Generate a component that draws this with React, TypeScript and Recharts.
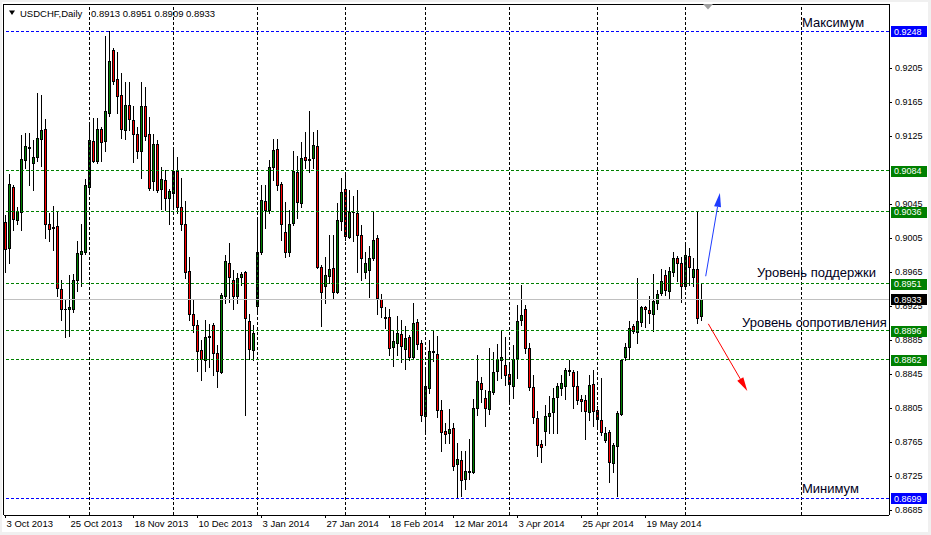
import React from "react";
import { ComposedChart, Bar, XAxis, YAxis, ReferenceLine } from "recharts";

// USDCHF daily candles, 3 Oct 2013 .. early Jun 2014
const opens = [
  0.9024, 0.8993, 0.9065, 0.9026, 0.9035, 0.9097, 0.9112, 0.9093, 0.9100, 0.9122,
  0.9133, 0.9021, 0.9017, 0.9019, 0.8945, 0.8922, 0.8922, 0.8922, 0.8956, 0.8986,
  0.8988, 0.9065, 0.9119, 0.9095, 0.9133, 0.9119, 0.9152, 0.9226, 0.9192, 0.9173,
  0.9132, 0.9162, 0.9144, 0.9127, 0.9107, 0.9160, 0.9127, 0.9072, 0.9116, 0.9063,
  0.9073, 0.9052, 0.9058, 0.9084, 0.9041, 0.9021, 0.8966, 0.8916, 0.8903, 0.8873,
  0.8862, 0.8889, 0.8903, 0.8870, 0.8847, 0.8937, 0.8976, 0.8956, 0.8937, 0.8959,
  0.8965, 0.8907, 0.8873, 0.8925, 0.8988, 0.9049, 0.9038, 0.9089, 0.9110, 0.9068,
  0.9012, 0.8988, 0.9023, 0.9083, 0.9046, 0.9100, 0.9097, 0.9099, 0.9113, 0.8971,
  0.8949, 0.8960, 0.8970, 0.8942, 0.9025, 0.9063, 0.9006, 0.9035, 0.9034, 0.9008,
  0.8965, 0.8967, 0.8982, 0.9005, 0.8933, 0.8912, 0.8912, 0.8877, 0.8882, 0.8892,
  0.8875, 0.8889, 0.8865, 0.8906, 0.8881, 0.8796, 0.8829, 0.8872, 0.8869, 0.8803,
  0.8778, 0.8776, 0.8781, 0.8739, 0.8744, 0.8722, 0.8730, 0.8730, 0.8805, 0.8835,
  0.8817, 0.8804, 0.8824, 0.8848, 0.8862, 0.8856, 0.8845, 0.8831, 0.8864, 0.8909,
  0.8922, 0.8876, 0.8830, 0.8793, 0.8763, 0.8778, 0.8796, 0.8800, 0.8818, 0.8829,
  0.8831, 0.8850, 0.8847, 0.8831, 0.8816, 0.8814, 0.8800, 0.8833, 0.8803, 0.8791,
  0.8767, 0.8777, 0.8740, 0.8760, 0.8798, 0.8865, 0.8877, 0.8901, 0.8895, 0.8906,
  0.8924, 0.8920, 0.8916, 0.8929, 0.8940, 0.8961, 0.8943, 0.8965, 0.8982, 0.8976,
  0.8949, 0.8984, 0.8959, 0.8969, 0.8913,
];
const highs = [
  0.9032, 0.9080, 0.9067, 0.9042, 0.9126, 0.9129, 0.9129, 0.9120, 0.9176, 0.9173,
  0.9145, 0.9034, 0.9043, 0.9037, 0.8956, 0.8933, 0.8961, 0.8963, 0.9001, 0.9021,
  0.9074, 0.9139, 0.9146, 0.9146, 0.9136, 0.9243, 0.9248, 0.9229, 0.9224, 0.9199,
  0.9189, 0.9189, 0.9160, 0.9136, 0.9189, 0.9183, 0.9147, 0.9127, 0.9120, 0.9089,
  0.9085, 0.9063, 0.9111, 0.9100, 0.9075, 0.9048, 0.8983, 0.8932, 0.8909, 0.8885,
  0.8909, 0.8904, 0.8905, 0.8879, 0.8940, 0.8985, 0.8999, 0.8967, 0.8964, 0.8965,
  0.8966, 0.8916, 0.8903, 0.9026, 0.9067, 0.9067, 0.9097, 0.9122, 0.9121, 0.9071,
  0.9047, 0.9038, 0.9107, 0.9101, 0.9118, 0.9130, 0.9154, 0.9130, 0.9132, 0.8973,
  0.8983, 0.9009, 0.9009, 0.9046, 0.9076, 0.9081, 0.9061, 0.9054, 0.9061, 0.9020,
  0.8989, 0.8995, 0.9035, 0.9009, 0.8939, 0.8924, 0.8921, 0.8897, 0.8913, 0.8909,
  0.8901, 0.8891, 0.8928, 0.8910, 0.8885, 0.8850, 0.8885, 0.8896, 0.8890, 0.8814,
  0.8787, 0.8804, 0.8787, 0.8764, 0.8755, 0.8754, 0.8769, 0.8816, 0.8867, 0.8842,
  0.8826, 0.8876, 0.8871, 0.8880, 0.8897, 0.8888, 0.8858, 0.8879, 0.8926, 0.8950,
  0.8926, 0.8881, 0.8844, 0.8801, 0.8767, 0.8809, 0.8819, 0.8829, 0.8835, 0.8844,
  0.8852, 0.8861, 0.8850, 0.8848, 0.8820, 0.8820, 0.8844, 0.8850, 0.8807, 0.8840,
  0.8783, 0.8779, 0.8764, 0.8801, 0.8862, 0.8881, 0.8907, 0.8904, 0.8958, 0.8925,
  0.8925, 0.8937, 0.8963, 0.8944, 0.8969, 0.8967, 0.8971, 0.8989, 0.8984, 0.8983,
  0.8997, 0.8993, 0.8981, 0.9036, 0.8951,
];
const lows = [
  0.8965, 0.8976, 0.9014, 0.9022, 0.9014, 0.9087, 0.9067, 0.9061, 0.9095, 0.9090,
  0.9005, 0.9002, 0.8991, 0.8937, 0.8909, 0.8888, 0.8890, 0.8918, 0.8943, 0.8948,
  0.8986, 0.9058, 0.9094, 0.9093, 0.9096, 0.9107, 0.9148, 0.9186, 0.9152, 0.9123,
  0.9122, 0.9132, 0.9094, 0.9099, 0.9076, 0.9120, 0.9061, 0.9061, 0.9059, 0.9039,
  0.9038, 0.9021, 0.9040, 0.9034, 0.9014, 0.8958, 0.8909, 0.8894, 0.8849, 0.8838,
  0.8848, 0.8853, 0.8844, 0.8830, 0.8846, 0.8928, 0.8930, 0.8921, 0.8928, 0.8950,
  0.8797, 0.8863, 0.8861, 0.8918, 0.8986, 0.9017, 0.9034, 0.9073, 0.9061, 0.9003,
  0.8983, 0.8984, 0.9020, 0.9029, 0.9042, 0.9087, 0.9083, 0.9087, 0.8970, 0.8902,
  0.8929, 0.8952, 0.8934, 0.8940, 0.9014, 0.9003, 0.9005, 0.9001, 0.8965, 0.8956,
  0.8958, 0.8936, 0.8979, 0.8916, 0.8912, 0.8899, 0.8867, 0.8855, 0.8867, 0.8859,
  0.8851, 0.8861, 0.8863, 0.8875, 0.8790, 0.8776, 0.8823, 0.8860, 0.8795, 0.8755,
  0.8764, 0.8764, 0.8732, 0.8699, 0.8701, 0.8710, 0.8722, 0.8728, 0.8797, 0.8812,
  0.8784, 0.8798, 0.8822, 0.8838, 0.8840, 0.8832, 0.8811, 0.8817, 0.8840, 0.8903,
  0.8870, 0.8826, 0.8787, 0.8749, 0.8741, 0.8761, 0.8776, 0.8776, 0.8776, 0.8820,
  0.8816, 0.8844, 0.8805, 0.8810, 0.8801, 0.8769, 0.8791, 0.8784, 0.8781, 0.8773,
  0.8765, 0.8718, 0.8730, 0.8701, 0.8797, 0.8862, 0.8863, 0.8893, 0.8881, 0.8901,
  0.8900, 0.8905, 0.8896, 0.8922, 0.8938, 0.8938, 0.8934, 0.8960, 0.8954, 0.8930,
  0.8948, 0.8950, 0.8948, 0.8905, 0.8909,
];
const closes = [
  0.8992, 0.9069, 0.9027, 0.9037, 0.9098, 0.9113, 0.9111, 0.9100, 0.9123, 0.9132,
  0.9021, 0.9015, 0.9018, 0.8946, 0.8921, 0.8921, 0.8924, 0.8955, 0.8987, 0.8990,
  0.9067, 0.9120, 0.9096, 0.9133, 0.9118, 0.9154, 0.9213, 0.9190, 0.9172, 0.9133,
  0.9161, 0.9145, 0.9127, 0.9107, 0.9160, 0.9125, 0.9064, 0.9116, 0.9061, 0.9074,
  0.9052, 0.9060, 0.9084, 0.9041, 0.9021, 0.8965, 0.8916, 0.8903, 0.8872, 0.8863,
  0.8889, 0.8890, 0.8870, 0.8848, 0.8938, 0.8978, 0.8959, 0.8937, 0.8958, 0.8963,
  0.8911, 0.8874, 0.8893, 0.8988, 0.9050, 0.9038, 0.9089, 0.9109, 0.9067, 0.9021,
  0.8988, 0.9022, 0.9084, 0.9047, 0.9099, 0.9097, 0.9098, 0.9114, 0.8971, 0.8942,
  0.8961, 0.8969, 0.8942, 0.9026, 0.9059, 0.9007, 0.9035, 0.9036, 0.9009, 0.8981,
  0.8976, 0.8981, 0.9003, 0.8934, 0.8924, 0.8911, 0.8876, 0.8884, 0.8893, 0.8878,
  0.8887, 0.8865, 0.8905, 0.8880, 0.8797, 0.8831, 0.8872, 0.8871, 0.8803, 0.8777,
  0.8775, 0.8780, 0.8737, 0.8745, 0.8720, 0.8731, 0.8731, 0.8805, 0.8837, 0.8827,
  0.8805, 0.8825, 0.8847, 0.8863, 0.8865, 0.8844, 0.8833, 0.8863, 0.8907, 0.8914,
  0.8876, 0.8830, 0.8794, 0.8762, 0.8759, 0.8796, 0.8799, 0.8817, 0.8831, 0.8835,
  0.8850, 0.8849, 0.8831, 0.8814, 0.8813, 0.8801, 0.8832, 0.8801, 0.8792, 0.8777,
  0.8776, 0.8741, 0.8761, 0.8799, 0.8861, 0.8877, 0.8899, 0.8896, 0.8907, 0.8924,
  0.8921, 0.8917, 0.8931, 0.8939, 0.8954, 0.8944, 0.8966, 0.8982, 0.8976, 0.8949,
  0.8985, 0.8971, 0.8969, 0.8911, 0.8933,
];

const dateTicks = [0, 16, 32, 48, 64, 80, 96, 112, 128, 144, 160];
const dateLabels = [
  "3 Oct 2013", "25 Oct 2013", "18 Nov 2013", "10 Dec 2013", "3 Jan 2014", "27 Jan 2014",
  "18 Feb 2014", "12 Mar 2014", "3 Apr 2014", "25 Apr 2014", "19 May 2014",
];
const gridBars = [21, 42, 63, 85, 105, 126, 148, 170, 199];
// 0.9085 and 0.9245 sit under the 0.9084 / 0.9248 tags and are not visible
const priceTicks = [
  0.8685, 0.8725, 0.8765, 0.8805, 0.8845, 0.8885, 0.8925, 0.8965, 0.9005, 0.9045,
  0.9125, 0.9165, 0.9205,
];
const levels = [0.9248, 0.9084, 0.9036, 0.8951, 0.8896, 0.8862, 0.8699];
const levelNotes = ["Максимум", "", "", "Уровень поддержки", "Уровень сопротивления", "", "Минимум"];
const bid = 0.8933;
const upArrow = [{ x: 175.05, y: 0.896 }, { x: 178.6, y: 0.9058 }];
const downArrow = [{ x: 175.7, y: 0.8904 }, { x: 185.45, y: 0.8825 }];

const data = opens.map((o, i) => ({
  i,
  open: o,
  high: highs[i],
  low: lows[i],
  close: closes[i],
  range: [lows[i], highs[i]],
}));

const FONT = "Liberation Sans, Arial, sans-serif";
const BULL = "#008000";
const BEAR = "#ff0000";
// note placement, relative to the plot's left edge and to the level line
const notePos: Record<string, { dx: number; dy: number }> = {
  "Максимум": { dx: 798, dy: -4.5 },
  "Уровень поддержки": { dx: 753, dy: -7 },
  "Уровень сопротивления": { dx: 738, dy: -4 },
  "Минимум": { dx: 798, dy: -5.5 },
};

function Candle(props: any) {
  const { x, y, width, height, payload } = props;
  if (!payload) return null;
  const { open, close, high, low } = payload;
  const top = Math.min(y, y + height);
  const bot = Math.max(y, y + height);
  const k = (bot - top) / (high - low);
  const py = (v: number) => top + (high - v) * k;
  const cx = Math.floor(x + width / 2); // wick pixel column
  const yt = Math.round(py(Math.max(open, close)));
  const yb = Math.round(py(Math.min(open, close)));
  const wt = Math.round(top);
  const wb = Math.round(bot);
  const fill = close >= open ? BULL : BEAR;
  return (
    <g shapeRendering="crispEdges">
      <rect x={cx} y={wt} width={1} height={Math.max(1, wb - wt + 1)} fill="#000" />
      <rect x={cx - 1} y={yt} width={3} height={yb - yt + 1} fill="#000" />
      {yb - yt >= 2 ? <rect x={cx} y={yt + 1} width={1} height={yb - yt - 1} fill={fill} /> : null}
    </g>
  );
}

function DateTick(props: any) {
  const { x, y, payload } = props;
  const idx = dateTicks.indexOf(payload.value);
  return (
    <text x={x + 1} y={y} dy="0.71em" textAnchor="start" fontSize={9.5} fontFamily={FONT} fill="#000">
      {dateLabels[idx]}
    </text>
  );
}

// price scale tick (drawn as a label so the coloured tags can sit on top of it)
const tickLabel = (value: number) => (props: any) => {
  const vb = props.viewBox || {};
  const right = vb.x + vb.width;
  const yy = Math.round(vb.y) + 0.5;
  return (
    <g>
      <line x1={right} x2={right + 3} y1={yy} y2={yy} stroke="#000" shapeRendering="crispEdges" />
      <text x={right + 6} y={vb.y + 3.3} fontSize={9} fontFamily={FONT} fill="#000">
        {value.toFixed(4)}
      </text>
    </g>
  );
};

const priceTag = (value: number, bg: string, note: string) => (props: any) => {
  const vb = props.viewBox || {};
  const right = vb.x + vb.width;
  const yy = vb.y;
  const pos = notePos[note];
  return (
    <g>
      <rect x={right + 2} y={Math.round(yy) - 5} width={36} height={11} fill={bg} />
      <text x={right + 5} y={yy + 3.5} fontSize={9} fontFamily={FONT} fill="#fff">
        {value.toFixed(4)}
      </text>
      {note && pos ? (
        <text x={vb.x + pos.dx} y={yy + pos.dy} fontSize={13} fontFamily={FONT} fill="#000020">
          {note}
        </text>
      ) : null}
    </g>
  );
};

const arrow = (color: string) => (props: any) => {
  const { x1, y1, x2, y2 } = props;
  if ([x1, y1, x2, y2].some((v) => v == null || isNaN(v))) return null;
  const a = Math.atan2(y2 - y1, x2 - x1);
  const L = 14;
  const W = 3.5;
  const bx = x2 - L * Math.cos(a);
  const by = y2 - L * Math.sin(a);
  const px = -Math.sin(a) * W;
  const py = Math.cos(a) * W;
  return (
    <g>
      <line x1={x1} y1={y1} x2={bx} y2={by} stroke={color} strokeWidth={1} />
      <polygon points={`${x2},${y2} ${bx + px},${by + py} ${bx - px},${by - py}`} fill={color} />
    </g>
  );
};

export default function App() {
  return (
    <div style={{ position: "absolute", left: 0, top: 0, width: 931, height: 535, background: "#f0f0f0" }}>
      <div style={{ position: "absolute", left: 2, top: 2, width: 926, height: 530, background: "#fff" }} />
      <div style={{ position: "absolute", left: 0, top: 0 }}>
        <ComposedChart width={931} height={535} data={data} margin={{ top: 4, right: 0, bottom: 0, left: 4 }}>
          <XAxis
            dataKey="i"
            type="number"
            domain={[-0.375, 220.875]}
            allowDataOverflow
            ticks={dateTicks}
            interval={0}
            height={20}
            tickSize={3}
            tickMargin={2}
            axisLine={{ stroke: "#000", shapeRendering: "crispEdges" }}
            tickLine={{ stroke: "#000", shapeRendering: "crispEdges" }}
            tick={<DateTick />}
          />
          <YAxis
            orientation="right"
            type="number"
            domain={[0.867912, 0.928029]}
            allowDataOverflow
            ticks={priceTicks}
            width={42}
            axisLine={{ stroke: "#000", shapeRendering: "crispEdges" }}
            tickLine={false}
            tick={false}
          />
          {priceTicks.map((t) => (
            <ReferenceLine key={"t" + t} y={t} stroke="none" label={tickLabel(t)} />
          ))}
          {gridBars.map((g) => (
            <ReferenceLine key={"g" + g} x={g} stroke="#000" strokeDasharray="3 2" shapeRendering="crispEdges" />
          ))}
          <ReferenceLine y={bid} stroke="#c0c0c0" shapeRendering="crispEdges" label={priceTag(bid, "#000", "")} />
          {levels.map((lv, k) => {
            const extreme = k === 0 || k === levels.length - 1;
            const c = extreme ? "#0000ff" : "#008000";
            return (
              <ReferenceLine
                key={"l" + lv}
                y={lv}
                stroke={c}
                strokeDasharray="3 2"
                shapeRendering="crispEdges"
                label={priceTag(lv, c, levelNotes[k])}
              />
            );
          })}
          <Bar dataKey="range" barSize={3} shape={<Candle />} isAnimationActive={false} />
          <ReferenceLine segment={upArrow} shape={arrow("#1e3cff")} />
          <ReferenceLine segment={downArrow} shape={arrow("#ff0000")} />
        </ComposedChart>
      </div>
      <svg width={931} height={535} style={{ position: "absolute", left: 0, top: 0, pointerEvents: "none" }}>
        <line x1={3.5} x2={3.5} y1={4} y2={515} stroke="#000" />
        <line x1={3} x2={889} y1={4.5} y2={4.5} stroke="#000" />
        <polygon points="9,10.5 15,10.5 12,15" fill="#000" />
        <polygon points="703,4 713,4 708,9.5" fill="#a0a0a0" />
        <text x={20} y={16.5} fontSize={9.5} fontFamily={FONT} fill="#000">
          USDCHF,Daily
        </text>
        <text x={91} y={16.5} fontSize={9.5} fontFamily={FONT} fill="#000">
          0.8913 0.8951 0.8909 0.8933
        </text>
      </svg>
    </div>
  );
}
